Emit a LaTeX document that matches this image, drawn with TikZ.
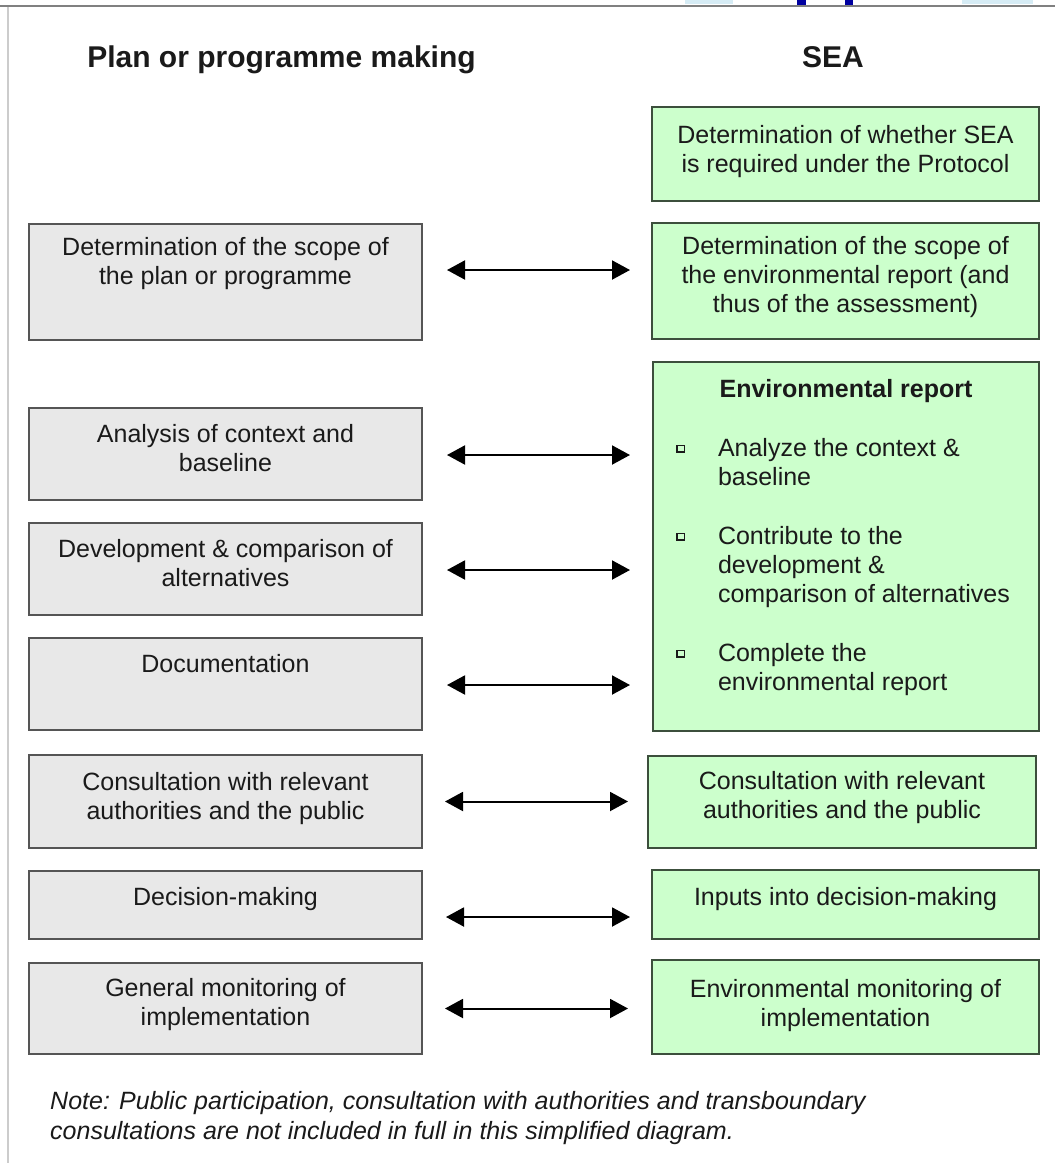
\documentclass[tikz,border=0pt]{standalone}
\usepackage{fontspec}
\setmainfont{Liberation Sans}
\usetikzlibrary{arrows.meta}
\definecolor{grayfill}{HTML}{E8E8E8}
\definecolor{grayedge}{HTML}{555555}
\definecolor{greenfill}{HTML}{CCFFCC}
\definecolor{greenedge}{HTML}{3C4F3C}
\definecolor{txt}{HTML}{1A1A1A}
\definecolor{lightblue}{HTML}{D6ECF5}
\definecolor{darkblue}{HTML}{0000A0}
% #1 height, #2 width, #3 first-line strut, #4 text
\newcommand{\bxt}[4]{\parbox[c][#1][t]{#2}{\fontsize{25pt}{29pt}\selectfont\centering\rule{0pt}{#3}#4\par}}
\newcommand{\sqb}{\raisebox{5pt}{\fboxsep=0pt\fboxrule=1.5pt\fbox{\rule{0pt}{5pt}\rule{6pt}{0pt}}}}
\newcommand{\itm}{\leavevmode\llap{\sqb\hspace{33pt}}}
\begin{document}
\begin{tikzpicture}[x=1pt,y=-1pt,
  lbox/.style={draw=grayedge, fill=grayfill, line width=2pt, inner sep=0pt, outer sep=0pt, text=txt},
  rbox/.style={draw=greenedge, fill=greenfill, line width=2pt, inner sep=0pt, outer sep=0pt, text=txt},
  biarrow/.style={line width=2pt, {Triangle[length=18pt,width=19pt]}-{Triangle[length=18pt,width=19pt]}},
  title/.style={font=\bfseries\fontsize{30pt}{36pt}\selectfont, text=txt, inner sep=0pt}
]
\useasboundingbox (0,0) rectangle (1055,1163);
\fill[white] (0,0) rectangle (1055,1163);
% page frame
\fill[lightblue] (685,0) rectangle (733,4);
\fill[lightblue] (962,0) rectangle (1033,4);
\fill[darkblue] (797,0) rectangle (806,5);
\fill[darkblue] (845,0) rectangle (853,5);
\draw[line width=2pt, color=gray] (0,6) -- (1055,6);
\draw[line width=1.2pt, color=black!20] (8,7) -- (8,1163);

% titles
\node[title, anchor=base] (t1) at (281.5,67) {Plan or programme making};
\node[title, anchor=base] (t2) at (833,67) {SEA};

% left column
\node[lbox] (L2) at (225.5,282) {\bxt{116pt}{393pt}{31pt}{Determination of the scope of\\the plan or programme}};
\node[lbox] (L3) at (225.5,454) {\bxt{92pt}{393pt}{34pt}{Analysis of context and\\baseline}};
\node[lbox] (L4) at (225.5,569) {\bxt{92pt}{393pt}{34pt}{Development \& comparison of\\alternatives}};
\node[lbox] (L5) at (225.5,684) {\bxt{92pt}{393pt}{34pt}{Documentation}};
\node[lbox] (L6) at (225.5,801.5) {\bxt{93pt}{393pt}{35pt}{Consultation with relevant\\authorities and the public}};
\node[lbox] (L7) at (225.5,905) {\bxt{68pt}{393pt}{34pt}{Decision-making}};
\node[lbox] (L8) at (225.5,1008.5) {\bxt{91pt}{393pt}{33pt}{General monitoring of\\implementation}};

% right column
\node[rbox] (R1) at (845.5,154) {\bxt{94pt}{387pt}{36pt}{Determination of whether SEA\\is required under the Protocol}};
\node[rbox] (R2) at (845.5,281) {\bxt{116pt}{387pt}{31pt}{Determination of the scope of\\the environmental report (and\\thus of the assessment)}};
\node[rbox] (R3) at (846,546.5) {\parbox[c][369pt][t]{386pt}{\fontsize{25pt}{29pt}\selectfont
  {\centering\rule{0pt}{35pt}\textbf{Environmental report}\par}
  \parskip=30pt \parindent=0pt \leftskip=65pt \rightskip=0pt plus 1fil
  \itm Analyze the context \&\\baseline\par
  \itm Contribute to the\\development \&\\comparison of alternatives\par
  \itm Complete the\\environmental report\par}};
\node[rbox] (R4) at (842,802) {\bxt{92pt}{388pt}{33pt}{Consultation with relevant\\authorities and the public}};
\node[rbox] (R5) at (845.5,904.5) {\bxt{69pt}{387pt}{35pt}{Inputs into decision-making}};
\node[rbox] (R6) at (845.5,1007) {\bxt{94pt}{387pt}{37pt}{Environmental monitoring of\\implementation}};

% note
\node[anchor=base west, align=left, inner sep=0pt, text=txt, font=\itshape\fontsize{25pt}{30pt}\selectfont] (note) at (50,1139)
  {Note: Public participation, consultation with authorities and transboundary\\consultations are not included in full in this simplified diagram.};

% connectors
\draw[biarrow, shorten <=25pt, shorten >=22pt] ([yshift=12pt]L2.east) -- ([yshift=12pt]L2.east -| R2.west);
\draw[biarrow, shorten <=25pt, shorten >=23pt] ([yshift=-1pt]L3.east) -- ([yshift=-1pt]L3.east -| R3.west);
\draw[biarrow, shorten <=25pt, shorten >=23pt] ([yshift=-1pt]L4.east) -- ([yshift=-1pt]L4.east -| R3.west);
\draw[biarrow, shorten <=25pt, shorten >=23pt] ([yshift=-1pt]L5.east) -- ([yshift=-1pt]L5.east -| R3.west);
\draw[biarrow, shorten <=23pt, shorten >=20pt] (L6.east) -- (L6.east -| R4.west);
\draw[biarrow, shorten <=24pt, shorten >=22pt] ([yshift=-12pt]L7.east) -- ([yshift=-12pt]L7.east -| R5.west);
\draw[biarrow, shorten <=23pt, shorten >=24pt] (L8.east) -- (L8.east -| R6.west);
\end{tikzpicture}
\end{document}
